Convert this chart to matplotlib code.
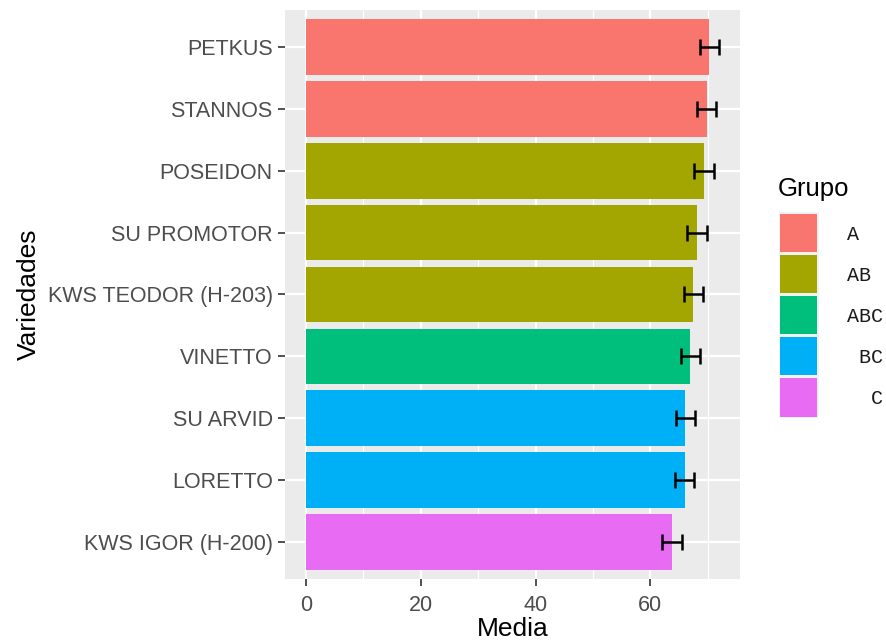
import matplotlib.pyplot as plt
from matplotlib.patches import Rectangle

# Data
variedades = ["PETKUS", "STANNOS", "POSEIDON", "SU PROMOTOR", "KWS TEODOR (H-203)",
              "VINETTO", "SU ARVID", "LORETTO", "KWS IGOR (H-200)"]
media = [70.3, 69.8, 69.4, 68.1, 67.5, 67.0, 66.1, 66.0, 63.8]
error = [1.7, 1.7, 1.7, 1.7, 1.7, 1.7, 1.7, 1.7, 1.7]
grupo = ["A", "A", "AB", "AB", "AB", "ABC", "BC", "BC", "C"]

grupos = ["A", "AB", "ABC", "BC", "C"]
grupo_labels = ["A", "AB", "ABC", " BC", "  C"]
colores = {"A": "#F8766D", "AB": "#A3A500", "ABC": "#00BF7D", "BC": "#00B0F6", "C": "#E76BF3"}

plt.rcParams["font.family"] = ["Liberation Sans", "DejaVu Sans"]

fig = plt.figure(figsize=(8.86, 6.43), dpi=100)
ax = fig.add_axes([0.322, 0.099, 0.513, 0.886])
ax.set_facecolor("#EBEBEB")

n = len(variedades)
ypos = list(range(n - 1, -1, -1))

ax.set_axisbelow(True)
for v in [10, 30, 50, 70]:
    ax.axvline(v, color="white", lw=0.8, zorder=0)
for v in [0, 20, 40, 60]:
    ax.axvline(v, color="white", lw=1.6, zorder=0)
for y in ypos:
    ax.axhline(y, color="white", lw=1.6, zorder=0)

ax.barh(ypos, media, height=0.9, color=[colores[g] for g in grupo], zorder=2)
ax.errorbar(media, ypos, xerr=error, fmt="none", ecolor="black", elinewidth=1.8,
            capsize=6, capthick=1.8, zorder=3)

xmax = max(m + e for m, e in zip(media, error))
pad = xmax * 0.05
ax.set_xlim(-pad, xmax + pad)
ax.set_ylim(-0.6, n - 0.4)
ax.set_xticks([0, 20, 40, 60])
ax.set_yticks(ypos)
ax.set_yticklabels(variedades)

ax.tick_params(axis="both", colors="#333333", length=5, width=1.2, labelsize=15.5,
               labelcolor="#4D4D4D")
ax.tick_params(axis="x", pad=6)
ax.tick_params(axis="y", pad=4)
for s in ax.spines.values():
    s.set_visible(False)

ax.set_xlabel("Media", fontsize=19, labelpad=1)
ax.set_ylabel("Variedades", fontsize=19, labelpad=5)

# legend drawn by hand
lax = fig.add_axes([0, 0, 1, 1], facecolor="none")
lax.set_xlim(0, 886)
lax.set_ylim(643, 0)
lax.axis("off")
lax.text(778, 189, "Grupo", fontsize=18.5, va="center", ha="left")
for i, (g, lab) in enumerate(zip(grupos, grupo_labels)):
    top = 212 + i * 41.2
    lax.add_patch(Rectangle((779, top), 40, 41.2, facecolor="#F2F2F2", edgecolor="none"))
    lax.add_patch(Rectangle((780.5, top + 1.5), 37, 38.2, facecolor=colores[g], edgecolor="none"))
    lax.text(847, top + 22, lab, fontsize=14.4, va="center", ha="left",
             family=["Liberation Mono", "DejaVu Sans Mono"], color="#1a1a1a")

fig.savefig("out.png", dpi=100)
